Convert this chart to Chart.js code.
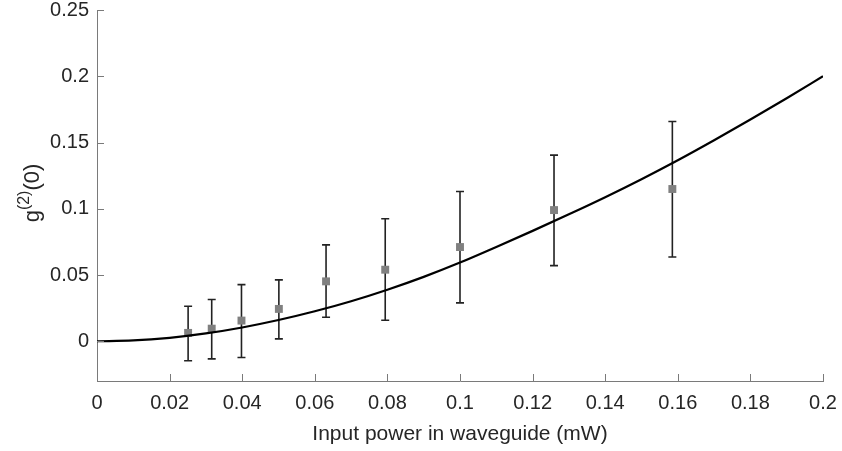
<!DOCTYPE html>
<html>
<head>
<meta charset="utf-8">
<script src="https://cdn.jsdelivr.net/npm/chart.js@4.4.1/dist/chart.umd.min.js"></script>
<style>
html,body{margin:0;padding:0;background:#fff}
#wrap{width:842px;height:451px}
</style>
</head>
<body>
<div id="wrap"><canvas id="c"></canvas></div>
<script>
// ---- data ----
const inputPower = [0.0251, 0.0316, 0.0398, 0.0501, 0.0631, 0.0794, 0.1, 0.1259, 0.1585];
const g2Measured = [0.0063, 0.0095, 0.0156, 0.0244, 0.0452, 0.054, 0.0711, 0.099, 0.1149];
const g2ErrLow   = [-0.0147, -0.0133, -0.0123, 0.0018, 0.0181, 0.0158, 0.029, 0.0571, 0.0636];
const g2ErrHigh  = [0.0264, 0.0315, 0.0427, 0.0463, 0.0727, 0.0925, 0.113, 0.1405, 0.1658];

const curvePower = [0, 0.01, 0.02, 0.03, 0.04, 0.05, 0.06, 0.07, 0.08, 0.09, 0.10,
                    0.11, 0.12, 0.13, 0.14, 0.15, 0.16, 0.17, 0.18, 0.19, 0.20];
const curveG2    = [0, 0.0006, 0.0026, 0.0059, 0.0104, 0.016, 0.0226, 0.0302, 0.0389, 0.0486, 0.0594,
                    0.0712, 0.0833, 0.0958, 0.1087, 0.1223, 0.1366, 0.1517, 0.1673, 0.1834, 0.2];

const xTicks = [0, 0.02, 0.04, 0.06, 0.08, 0.1, 0.12, 0.14, 0.16, 0.18, 0.2];
const xTickLabels = ['0', '0.02', '0.04', '0.06', '0.08', '0.1', '0.12', '0.14', '0.16', '0.18', '0.2'];
const yTicks = [0, 0.05, 0.1, 0.15, 0.2, 0.25];
const yTickLabels = ['0', '0.05', '0.1', '0.15', '0.2', '0.25'];

const xTitle = 'Input power in waveguide (mW)';
const yTitleParts = ['g', '(2)', '(0)'];

const FONT = '"Liberation Sans", Arial, Helvetica, sans-serif';
const TEXT = '#262626';
const AXIS = '#7a7a7a';

const errorBars = {
  id: 'errorBars',
  beforeDatasetsDraw(chart) {
    const {ctx, scales: {x, y}} = chart;
    ctx.save();
    ctx.strokeStyle = '#222';
    ctx.lineWidth = 1.6;
    inputPower.forEach((p, i) => {
      const px = x.getPixelForValue(p);
      const t = y.getPixelForValue(g2ErrHigh[i]);
      const b = y.getPixelForValue(g2ErrLow[i]);
      ctx.beginPath();
      ctx.moveTo(px, t); ctx.lineTo(px, b);
      ctx.moveTo(px - 4, t); ctx.lineTo(px + 4, t);
      ctx.moveTo(px - 4, b); ctx.lineTo(px + 4, b);
      ctx.stroke();
    });
    ctx.restore();
  }
};

const axisDecor = {
  id: 'axisDecor',
  afterDraw(chart) {
    const {ctx, chartArea: a, scales: {x, y}} = chart;
    ctx.save();
    ctx.strokeStyle = AXIS;
    ctx.lineWidth = 1;
    ctx.beginPath();
    xTicks.forEach(v => {
      const px = Math.round(x.getPixelForValue(v)) + 0.5;
      ctx.moveTo(px, a.bottom); ctx.lineTo(px, a.bottom - 7);
    });
    yTicks.forEach(v => {
      const py = Math.round(y.getPixelForValue(v)) + 0.5;
      ctx.moveTo(a.left, py); ctx.lineTo(a.left + 7, py);
    });
    ctx.stroke();

    // x title
    ctx.fillStyle = TEXT;
    ctx.font = '21px ' + FONT;
    ctx.textAlign = 'center';
    ctx.textBaseline = 'alphabetic';
    ctx.fillText(xTitle, (a.left + a.right) / 2, 440);

    // y title with superscript
    const big = '22px ' + FONT, small = '16px ' + FONT;
    ctx.font = big; const w0 = ctx.measureText(yTitleParts[0]).width;
    const w2 = ctx.measureText(yTitleParts[2]).width;
    ctx.font = small; const w1 = ctx.measureText(yTitleParts[1]).width;
    const total = w0 + w1 + w2;
    ctx.translate(39, 193);
    ctx.rotate(-Math.PI / 2);
    ctx.textAlign = 'left';
    let u = -total / 2;
    ctx.font = big; ctx.fillText(yTitleParts[0], u, 0); u += w0;
    ctx.font = small; ctx.fillText(yTitleParts[1], u, -10); u += w1;
    ctx.font = big; ctx.fillText(yTitleParts[2], u, 0);
    ctx.restore();
  }
};

const noOverflow = s => { s.paddingTop = 0; s.paddingBottom = 0; s.paddingLeft = 0; s.paddingRight = 0; };

new Chart(document.getElementById('c'), {
  type: 'scatter',
  data: {
    datasets: [
      {
        type: 'line',
        data: curvePower.map((p, i) => ({x: p, y: curveG2[i]})),
        borderColor: '#000',
        borderWidth: 2.2,
        pointRadius: 0,
        cubicInterpolationMode: 'monotone',
        fill: false
      },
      {
        data: inputPower.map((p, i) => ({x: p, y: g2Measured[i]})),
        pointStyle: 'rect',
        pointRadius: 5.6,
        backgroundColor: '#808080',
        borderColor: '#808080',
        borderWidth: 0
      }
    ]
  },
  options: {
    responsive: true,
    maintainAspectRatio: false,
    animation: false,
    layout: {padding: {left: 0, right: 19, top: 10, bottom: 0}},
    plugins: {legend: {display: false}, tooltip: {enabled: false}},
    scales: {
      x: {
        type: 'linear', min: 0, max: 0.2,
        afterBuildTicks: s => { s.ticks = xTicks.map(v => ({value: v})); },
        afterFit: s => { s.height = 70; noOverflow(s); },
        grid: {display: false, drawTicks: false},
        border: {display: true, color: AXIS, width: 1},
        ticks: {
          padding: 10, color: TEXT, font: {family: FONT, size: 20},
          maxRotation: 0, autoSkip: false,
          callback: (v, i) => xTickLabels[i]
        }
      },
      y: {
        type: 'linear', min: -0.03, max: 0.25,
        afterBuildTicks: s => { s.ticks = yTicks.map(v => ({value: v})); },
        afterFit: s => { s.width = 97; noOverflow(s); },
        grid: {display: false, drawTicks: false},
        border: {display: true, color: AXIS, width: 1},
        ticks: {
          padding: 8, color: TEXT, font: {family: FONT, size: 20},
          autoSkip: false,
          callback: (v, i) => yTickLabels[i]
        }
      }
    }
  },
  plugins: [errorBars, axisDecor]
});
</script>
</body>
</html>
